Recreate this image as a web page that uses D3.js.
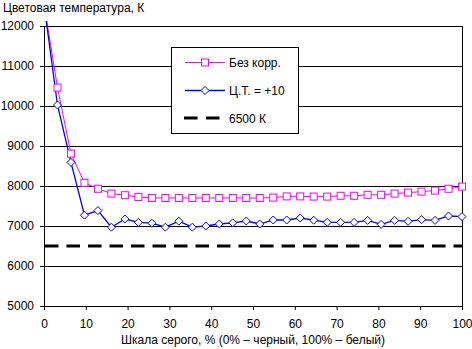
<!DOCTYPE html>
<html><head><meta charset="utf-8">
<script src="https://cdn.jsdelivr.net/npm/d3@7"></script>
<style>
html,body{margin:0;padding:0;background:#fff;}
svg{display:block;font-family:"Liberation Sans",Arial,sans-serif;}
</style></head>
<body><svg id="c" width="472" height="349"></svg>
<script>
const xLabels = [0,10,20,30,40,50,60,70,80,90,100];
const yTicks = [5000,6000,7000,8000,9000,10000,11000,12000];
const seriesNames = ["Без корр.", "Ц.Т. = +10", "6500 К"];
const noCorr = [12550,10460,8810,8080,7930,7810,7770,7725,7700,7700,7700,7700,7700,7700,7700,7700,7700,7710,7740,7740,7735,7735,7755,7755,7780,7780,7810,7835,7860,7885,7930,7985];
const plus10 = [12550,10025,8590,7270,7385,6970,7175,7090,7070,6970,7120,6970,7000,7050,7080,7125,7050,7150,7150,7200,7145,7090,7090,7090,7140,7040,7140,7115,7160,7140,7250,7235];
const target = 6500;
const yTitle = "Цветовая температура, К";
const xTitle = "Шкала серого, % (0% – черный, 100% – белый)";

const svg = d3.select("#c");
const L=44, R=462, T=26, B=306;
const x = d3.scaleLinear().domain([0,100]).range([L,R]);
const y = d3.scaleLinear().domain([5000,12000]).range([B,T]);
const xs = noCorr.map((d,i)=> i*100/(noCorr.length-1));

svg.append("defs").append("clipPath").attr("id","clp")
  .append("rect").attr("x",L).attr("y",21).attr("width",R-L+1).attr("height",B-21+1);

// gridlines
svg.append("g").selectAll("line").data(yTicks).join("line")
  .attr("x1",L).attr("x2",R).attr("y1",d=>y(d)+0.5).attr("y2",d=>y(d)+0.5)
  .attr("stroke","#000").attr("stroke-width",1);
// right border
svg.append("line").attr("x1",R+0.5).attr("x2",R+0.5).attr("y1",T).attr("y2",B+1)
  .attr("stroke","#000");

// axes
const fs = "12px";
const yAx = svg.append("g").attr("transform",`translate(${L},0)`)
  .call(d3.axisLeft(y).tickValues(yTicks).tickSize(4).tickPadding(6).tickSizeOuter(0).tickFormat(d3.format("d")));
const xAx = svg.append("g").attr("transform",`translate(0,${B})`)
  .call(d3.axisBottom(x).tickValues(xLabels).tickSize(4).tickPadding(9).tickSizeOuter(0).tickFormat(d3.format("d")));
[yAx,xAx].forEach(g=>{
  g.selectAll("text").attr("font-size",fs).attr("fill","#000").attr("font-family","Liberation Sans, Arial, sans-serif");
  g.selectAll("line,path").attr("stroke","#000");
});

// target dashed line
svg.append("line").attr("x1",L+1).attr("x2",R).attr("y1",y(target)).attr("y2",y(target))
  .attr("stroke","#000").attr("stroke-width",3).attr("stroke-dasharray","13.5,8");

const line = d3.line().x((d,i)=>x(xs[i])).y(d=>y(d));
const plot = svg.append("g").attr("clip-path","url(#clp)");
plot.append("path").datum(noCorr).attr("d",line).attr("fill","none").attr("stroke","#ff00ff").attr("stroke-width",1);
plot.append("path").datum(plus10).attr("d",line).attr("fill","none").attr("stroke","#0000ff").attr("stroke-width",1.3);

const diamond = s => `M0,${-s}L${s},0L0,${s}L${-s},0Z`;
const idx = d3.range(noCorr.length);
svg.append("g").selectAll("path").data(idx.filter(i=>plus10[i]<=12000)).join("path")
  .attr("transform",i=>`translate(${x(xs[i])},${y(plus10[i])})`)
  .attr("d",diamond(4)).attr("fill","#fff").attr("stroke","#0000ff").attr("stroke-width",1);
svg.append("g").selectAll("rect").data(idx.filter(i=>noCorr[i]<=12000)).join("rect")
  .attr("x",i=>x(xs[i])-3.5).attr("y",i=>y(noCorr[i])-3.5).attr("width",7).attr("height",7)
  .attr("fill","#fff").attr("stroke","#ff00ff").attr("stroke-width",1);

// titles
svg.append("text").attr("x",3).attr("y",12).attr("font-size",fs).text(yTitle);
svg.append("text").attr("x",(L+R)/2).attr("y",344).attr("text-anchor","middle").attr("font-size",fs).text(xTitle);

// legend
const lg = svg.append("g");
lg.append("rect").attr("x",171.5).attr("y",47.5).attr("width",127).attr("height",86)
  .attr("fill","#fff").attr("stroke","#000");
const rows = [62,90,118];
lg.append("line").attr("x1",185).attr("x2",225).attr("y1",rows[0]+0.5).attr("y2",rows[0]+0.5).attr("stroke","#ff00ff");
lg.append("rect").attr("x",201.5).attr("y",rows[0]-3).attr("width",7).attr("height",7).attr("fill","#fff").attr("stroke","#ff00ff");
lg.append("line").attr("x1",185).attr("x2",225).attr("y1",rows[1]+0.5).attr("y2",rows[1]+0.5).attr("stroke","#0000ff").attr("stroke-width",1.3);
lg.append("path").attr("transform",`translate(205,${rows[1]+0.5})`).attr("d",diamond(4)).attr("fill","#fff").attr("stroke","#0000ff");
lg.append("line").attr("x1",184).attr("x2",220).attr("y1",rows[2]).attr("y2",rows[2]).attr("stroke","#000").attr("stroke-width",3).attr("stroke-dasharray","13.5,8.5");
lg.selectAll("text.l").data(seriesNames).join("text").attr("class","l")
  .attr("x",229).attr("y",(d,i)=>rows[i]+4.5).attr("font-size",fs).text(d=>d);
</script></body></html>
